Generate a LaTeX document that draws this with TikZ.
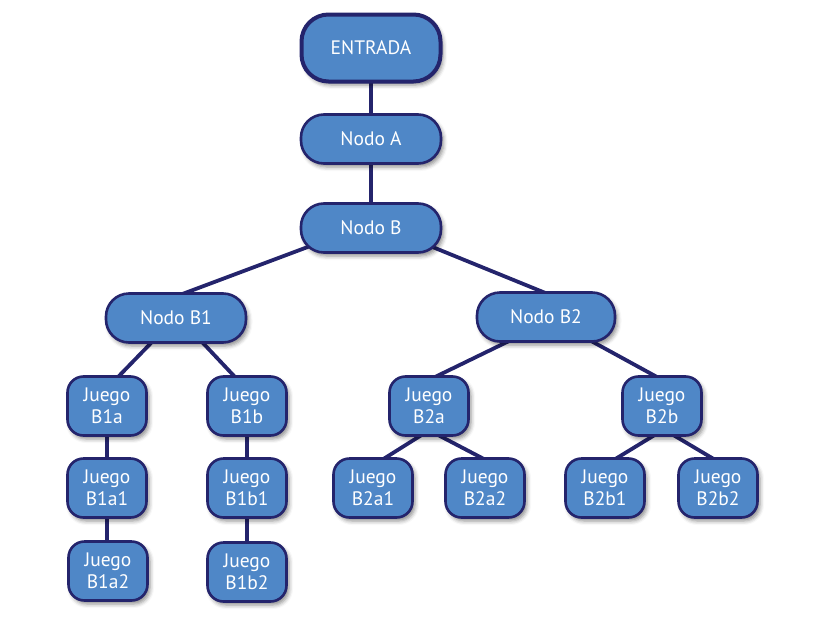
\documentclass[tikz,border=0pt]{standalone}
\usepackage{fontspec}
\setmainfont{PT Sans}
\usetikzlibrary{calc,shadows,shadows.blur,backgrounds}
\definecolor{boxfill}{RGB}{79,135,199}
\definecolor{navy}{RGB}{36,36,108}
\tikzset{
  base/.style={draw=navy, line width=2.6pt, fill=boxfill, text=white,
    font=\fontsize{19.5}{22}\selectfont, align=center, inner sep=0pt,
    blur shadow={shadow xshift=2.5pt, shadow yshift=-3.5pt, shadow opacity=45, shadow blur radius=4pt}},
  topbox/.style={base, line width=4pt, minimum width=139pt, minimum height=67pt, rounded corners=27pt},
  nodobox/.style={base, minimum width=140pt, minimum height=49pt, rounded corners=23pt},
  juegobox/.style={base, minimum width=79pt, minimum height=59pt, rounded corners=16pt},
  link/.style={draw=navy, line width=3.8pt, shorten <=-5pt, shorten >=-5pt}
}
\begin{document}
\begin{tikzpicture}[x=1pt,y=-1pt]
\useasboundingbox (0,0) rectangle (822,640);
\node[topbox] (E) at (371,48) {ENTRADA};
\node[nodobox] (A) at (371,139) {Nodo A};
\node[nodobox] (B) at (371,228) {Nodo B};
\node[nodobox] (B1) at (176,318) {Nodo B1};
\node[nodobox, minimum width=138pt] (B2) at (546,317) {Nodo B2};
\node[juegobox] (B1a) at (107,406) {Juego\\B1a};
\node[juegobox] (B1b) at (247,406) {Juego\\B1b};
\node[juegobox] (B1a1) at (107,488) {Juego\\B1a1};
\node[juegobox] (B1a2) at (108,571) {Juego\\B1a2};
\node[juegobox] (B1b1) at (247,488) {Juego\\B1b1};
\node[juegobox] (B1b2) at (247,572) {Juego\\B1b2};
\node[juegobox] (B2a) at (429,406) {Juego\\B2a};
\node[juegobox] (B2b) at (662,406) {Juego\\B2b};
\node[juegobox] (B2a1) at (373,488) {Juego\\B2a1};
\node[juegobox] (B2a2) at (485,488) {Juego\\B2a2};
\node[juegobox] (B2b1) at (605,488) {Juego\\B2b1};
\node[juegobox] (B2b2) at (718,488) {Juego\\B2b2};
\begin{pgfonlayer}{background}
\draw[link] (E.south) -- (A.north);
\draw[link] (A.south) -- (B.north);
\draw[link] ($(B)+(-66,20)$) -- ($(B1)+(9,-25)$);
\draw[link] ($(B)+(64,20)$) -- ($(B2)+(-3,-25)$);
\draw[link] ($(B1)+(-24,24)$) -- ($(B1a)+(11,-29)$);
\draw[link] ($(B1)+(26,24)$) -- ($(B1b)+(-12,-29)$);
\draw[link] (B1a.south) -- (B1a1.north);
\draw[link] (B1a1.south) -- (B1a2.north -| B1a1.south);
\draw[link] (B1b.south) -- (B1b1.north);
\draw[link] (B1b1.south) -- (B1b2.north);
\draw[link] ($(B2)+(-39,25)$) -- ($(B2a)+(6,-29)$);
\draw[link] ($(B2)+(47,25)$) -- ($(B2b)+(-5,-29)$);
\draw[link] ($(B2a)+(-9,30)$) -- ($(B2a1)+(12,-30)$);
\draw[link] ($(B2a)+(11,30)$) -- ($(B2a2)+(-3,-30)$);
\draw[link] ($(B2b)+(-9,30)$) -- ($(B2b1)+(12,-30)$);
\draw[link] ($(B2b)+(13,30)$) -- ($(B2b2)+(-6,-30)$);
\end{pgfonlayer}
\end{tikzpicture}
\end{document}
